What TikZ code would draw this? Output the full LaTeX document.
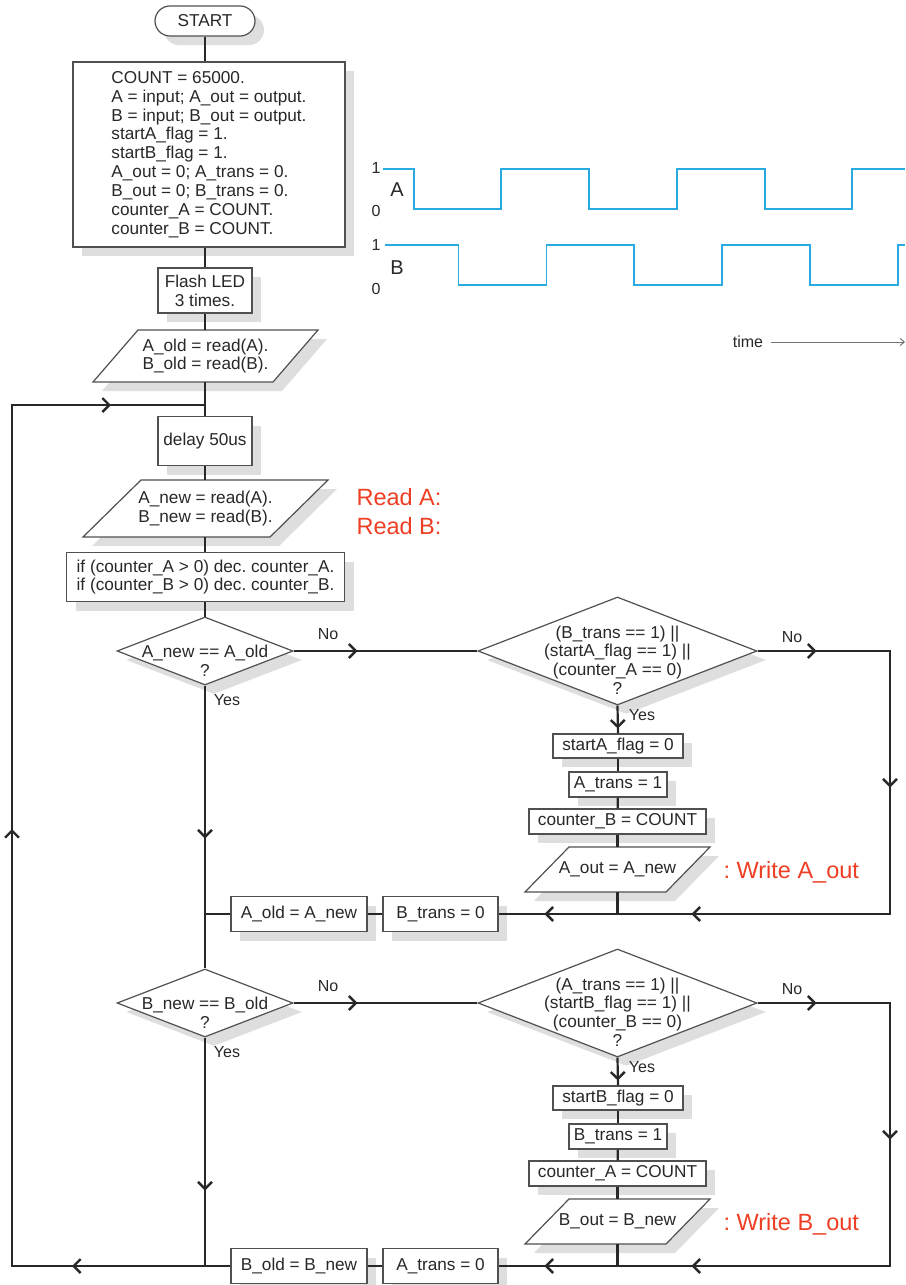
\documentclass[tikz,border=0pt]{standalone}
\usepackage{fontspec}
\setmainfont{Liberation Sans}
\usetikzlibrary{shapes.geometric,shadows,decorations.markings,arrows.meta}

\definecolor{ink}{RGB}{40,40,40}
\definecolor{edge}{RGB}{80,80,80}
\definecolor{wave}{RGB}{41,171,226}
\definecolor{note}{RGB}{238,62,35}

\tikzset{
  txt/.style={text=ink, align=center, font=\fontsize{17.2}{18.8}\selectfont},
  lbl/.style={text=ink, font=\fontsize{16}{18}\selectfont},
  box/.style={txt, draw=edge, line width=1.2pt, fill=white, inner sep=0pt,
    drop shadow={shadow xshift=9pt, shadow yshift=-9pt, fill=black!13, opacity=1}},
  decision/.style={box, diamond},
  flow/.style={draw=ink, line width=2.2pt},
  arr/.style={postaction={decorate, decoration={markings,
    mark=at position #1 with {\arrow{Straight Barb[length=7pt,width=14pt,line width=2.4pt]}}}}},
  redtext/.style={text=note, align=left, font=\fontsize{23.5}{28.5}\selectfont}
}

% input/output slab: name, x, y, full width, height, slant, text
\newcommand{\iopara}[7]{%
  \fill[black!13] ({#2-#4/2+9},{#3+#5/2+9}) -- ++({#4-#6},0) -- ++(#6,-#5) -- ++({#6-#4},0) -- cycle;
  \draw[draw=edge, line width=1.2pt, fill=white] ({#2-#4/2},{#3+#5/2}) -- ++({#4-#6},0) -- ++(#6,-#5) -- ++({#6-#4},0) -- cycle;
  \node[txt, inner sep=0pt, minimum width=#4pt, minimum height=#5pt] (#1) at (#2,#3) {#7};
}

\begin{document}
\frenchspacing
\begin{tikzpicture}[x=1pt, y=-1pt]

  % Page
  \path[use as bounding box, fill=white] (0,0) rectangle (905,1285);

  % Start and set-up
  \node[box, minimum width=100pt, minimum height=30pt, rounded corners=15pt] (start) at (205,21) {START};
  \node[box, align=left, minimum width=272pt, minimum height=185pt] (init) at (209,154.5)
    {COUNT = 65000.\\A = input; A\_out = output.\\B = input; B\_out = output.\\startA\_flag = 1.\\startB\_flag = 1.\\A\_out = 0; A\_trans = 0.\\B\_out = 0; B\_trans = 0.\\counter\_A = COUNT.\\counter\_B = COUNT.};
  \node[box, minimum width=94pt, minimum height=45pt] (flash) at (205,290.5) {Flash LED\\3 times.};
  \iopara{rdold}{205.5}{356}{225}{52}{45}{A\_old = read(A).\\B\_old = read(B).}
  \coordinate (loop) at (205,405);

  % Main loop body
  \node[box, minimum width=94pt, minimum height=49pt] (delay) at (205,441) {delay 50us};
  \iopara{rdnew}{205.5}{508.5}{245}{57}{58}{A\_new = read(A).\\B\_new = read(B).}
  \node[redtext, anchor=west] (rdnote) at (353,511.5) {Read A:\\Read B:};
  \node[box, minimum width=278pt, minimum height=49pt] (dec) at (205.5,577) {if (counter\_A > 0) dec. counter\_A.\\if (counter\_B > 0) dec. counter\_B.};

  % Encoder waveforms
  \draw[draw=wave, line width=1.8pt] (383,169) -| (414,209) -| (501,169) -| (589,209) -| (677,169) -| (765,209) -| (852,169) -- (905,169);
  \draw[draw=wave, line width=1.8pt] (385,245) -| (458.5,285) -| (546.5,245) -| (634,285) -| (722,245) -| (810,285) -| (898,245) -- (905,245);
  \node[lbl] (a1) at (376,168) {1};
  \node[lbl] (a0) at (376,211) {0};
  \node[text=ink, font=\fontsize{20}{22}\selectfont] (aname) at (397,190) {A};
  \node[lbl] (b1) at (376,245) {1};
  \node[lbl] (b0) at (376,289) {0};
  \node[text=ink, font=\fontsize{20}{22}\selectfont] (bname) at (397,268) {B};
  \node[lbl] (time) at (748,342) {time};
  \coordinate (tend) at (905,342);
  \draw[black!55, line width=1pt, -{Straight Barb[length=4pt,width=7pt]}, shorten <=4pt] (time.east) -- (tend);

  % Spine
  \draw[flow] (start.south) -- (start.south |- init.north);
  \draw[flow] (flash.north |- init.south) -- (flash.north);
  \draw[flow] (flash.south) -- (flash.south |- rdold.north);
  \draw[flow] (loop |- rdold.south) -- (loop) -- (delay.north);
  \draw[flow] (delay.south) -- (delay.south |- rdnew.north);
  \draw[flow] (loop |- rdnew.south) -- (loop |- dec.north);
  \draw[flow] (loop |- dec.south) -- (loop |- 0,617);

  % Channel tests, A then B
  \foreach \p/\q/\dy in {A/B/0, B/A/352} {
    \node[decision, minimum width=176pt, minimum height=68pt] (d\p) at (205,651+\dy) {};
    \node[txt] (qd\p) at (205,661+\dy) {\p\_new == \p\_old\\?};
    \node[decision, minimum width=279pt, minimum height=108pt] (c\p) at (617.5,651+\dy) {};
    \node[txt] (qc\p) at (617.5,660+\dy) {(\q\_trans == 1) ||\\(start\p\_flag == 1) ||\\(counter\_\p{} == 0)\\?};
    \node[box, minimum width=130pt, minimum height=24pt] (s\p) at (618,746+\dy) {start\p\_flag = 0};
    \node[box, minimum width=98pt, minimum height=25pt] (t\p) at (618,784.5+\dy) {\p\_trans = 1};
    \node[box, minimum width=177pt, minimum height=25pt] (k\p) at (617.5,821.5+\dy) {counter\_\q{} = COUNT};
    \iopara{w\p}{617.5}{869.5+\dy}{185}{45}{44}{\p\_out = \p\_new}
    \node[redtext, anchor=west] (n\p) at (720,872+\dy) {: Write \p\_out};
    \node[box, minimum width=136pt, minimum height=35pt] (o\p) at (299,914+\dy) {\p\_old = \p\_new};
    \node[box, minimum width=115pt, minimum height=35pt] (r\p) at (440.5,914+\dy) {\q\_trans = 0};
    \coordinate (j\p) at (205,914+\dy);
    \coordinate (m\p) at (617.5,914+\dy);
    \coordinate (e\p) at (890,651+\dy);
    \coordinate (f\p) at (890,914+\dy);
    \node[lbl] (no\p) at (328,634+\dy) {No};
    \node[lbl] (yes\p) at (227,700+\dy) {Yes};
    \node[lbl] (noc\p) at (792,637+\dy) {No};
    \node[lbl] (yesc\p) at (642,715+\dy) {Yes};

    \draw[flow, arr=64pt] (d\p.east) -- (c\p.west);
    \draw[flow, arr=153pt] (d\p.south) -- (j\p);
    \draw[flow, arr=23pt] (c\p.south) -- (s\p.north);
    \draw[flow] (s\p) -- (t\p);
    \draw[flow] (t\p) -- (k\p);
    \draw[flow] (k\p.south) -- (k\p.south |- w\p.north);
    \draw[flow] (m\p |- w\p.south) -- (m\p);
    \draw[flow, arr=59pt, arr=269pt, arr=594pt, arr=741pt] (c\p.east) -- (e\p) -- (f\p) -- (m\p) -- (r\p.east);
    \draw[flow] (r\p) -- (o\p);
    \draw[flow] (o\p) -- (j\p);
  }

  % Back to the top of the loop
  \draw[flow] (jA) -- (dB.north);
  \coordinate (cl1) at (12,1266);
  \coordinate (cl2) at (12,405);
  \draw[flow, arr=133pt, arr=630pt, arr=1153pt] (jB) -- (cl1) -- (cl2) -- (loop);

\end{tikzpicture}
\end{document}
